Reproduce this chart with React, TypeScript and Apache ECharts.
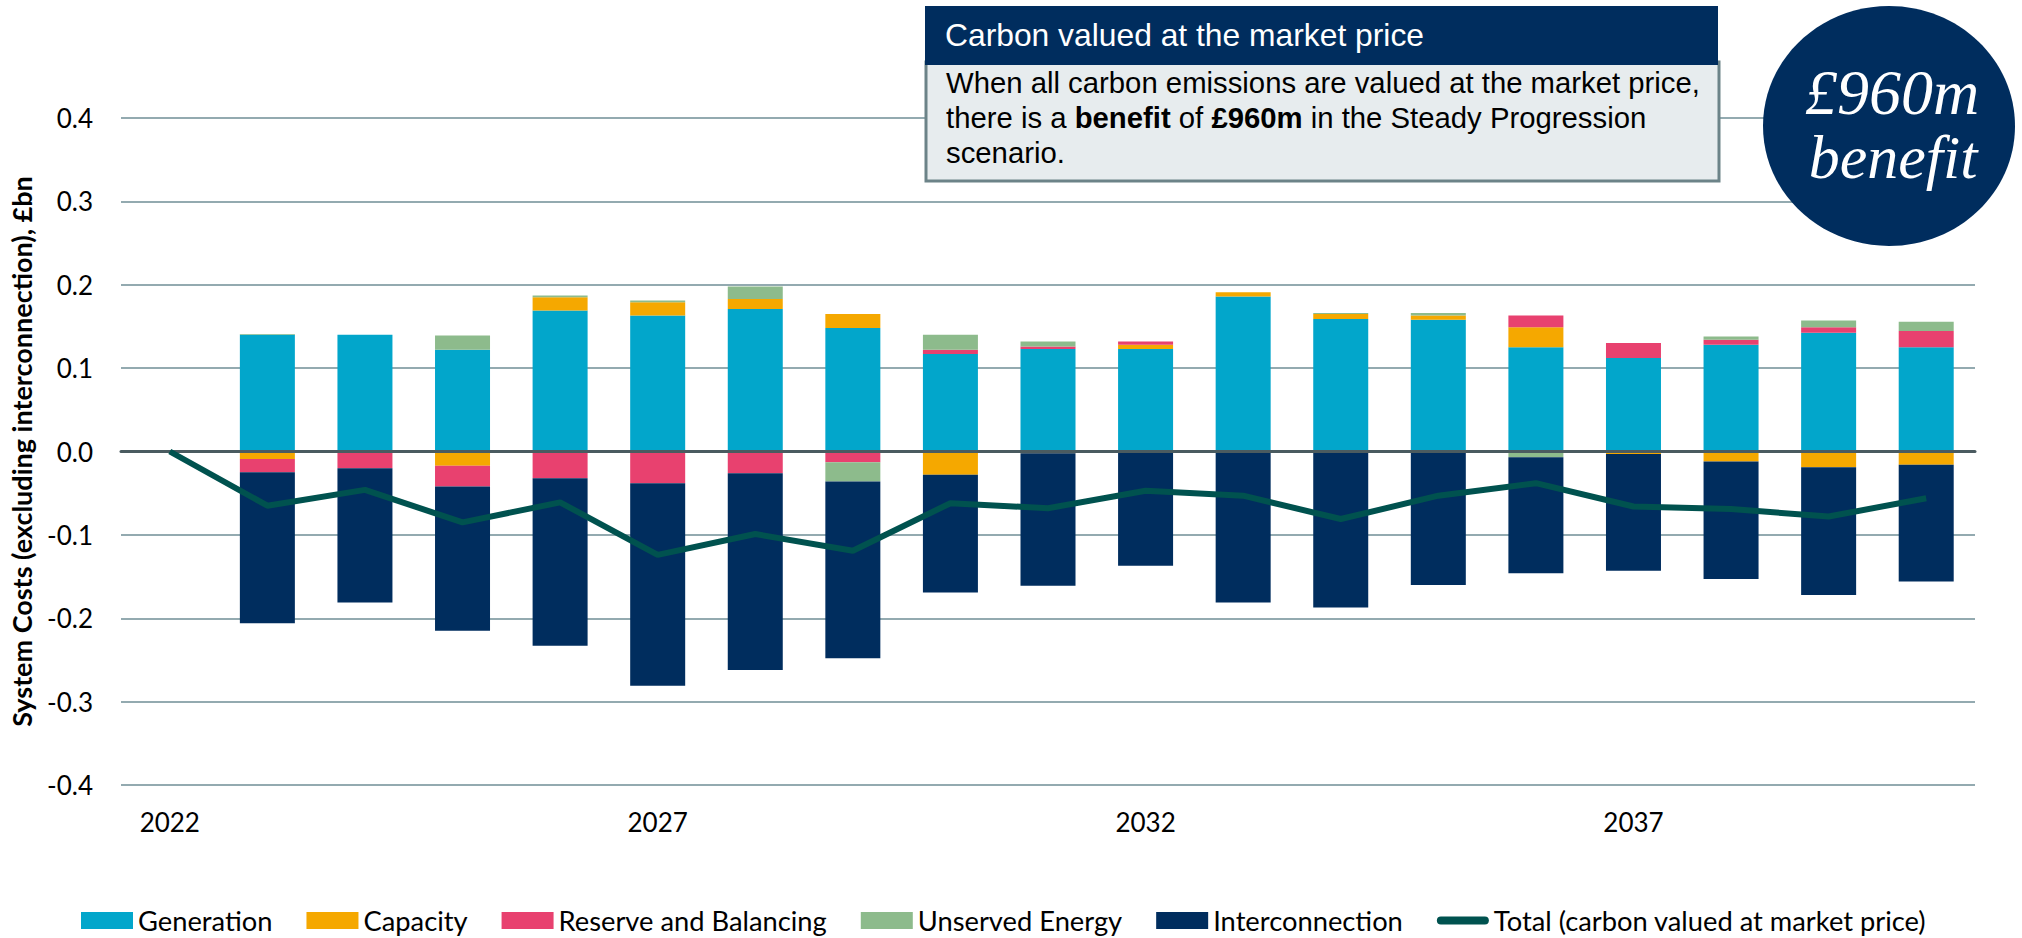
import React, { useEffect, useRef } from "react";
import * as echarts from "echarts";

const years = ["2022","2023","2024","2025","2026","2027","2028","2029","2030","2031","2032","2033","2034","2035","2036","2037","2038","2039","2040"];
const generation = [null, 0.140, 0.140, 0.122, 0.169, 0.163, 0.171, 0.148, 0.117, 0.123, 0.123, 0.186, 0.159, 0.158, 0.125, 0.112, 0.128, 0.1425, 0.125];
const capacity = [null, -0.009, 0, -0.017, 0.016, 0.016, 0.012, 0.017, -0.028, -0.002, 0.005, 0.005, 0.006, 0.005, 0.024, -0.003, -0.012, -0.019, -0.016];
const reserve = [null, -0.016, -0.020, -0.025, -0.032, -0.038, -0.026, -0.013, 0.005, 0.003, 0.004, 0, 0, 0, 0.014, 0.018, 0.006, 0.0065, 0.0195];
const unserved = [null, 0.001, 0, 0.017, 0.002, 0.002, 0.015, -0.023, 0.018, 0.006, 0, 0, 0.001, 0.003, -0.007, 0, 0.004, 0.008, 0.011];
const interconnection = [null, -0.181, -0.161, -0.173, -0.201, -0.243, -0.236, -0.212, -0.141, -0.159, -0.137, -0.181, -0.187, -0.160, -0.139, -0.140, -0.141, -0.153, -0.140];
const total = [0, -0.065, -0.046, -0.085, -0.061, -0.124, -0.099, -0.119, -0.062, -0.068, -0.047, -0.053, -0.081, -0.053, -0.038, -0.066, -0.069, -0.078, -0.056];

const NAMES = {
  gen: "Generation",
  cap: "Capacity",
  res: "Reserve and Balancing",
  uns: "Unserved Energy",
  int: "Interconnection",
  tot: "Total (carbon valued at market price)",
};
const COLORS = {
  gen: "#02A6CB",
  cap: "#F5A800",
  res: "#E8416F",
  uns: "#8DBB8C",
  int: "#002D5E",
  tot: "#00524F",
};
const FONT = "Lato";

export default function App() {
  const ref = useRef<HTMLDivElement>(null);
  useEffect(() => {
    const chart = echarts.init(ref.current!, null, { renderer: "svg" });
    const bar = (name: string, data: (number | null)[], color: string) => ({
      name,
      type: "bar",
      stack: "costs",
      data,
      barWidth: 55,
      itemStyle: { color },
      emphasis: { disabled: true },
    });
    chart.setOption({
      animation: false,
      grid: { left: 121, right: 47, top: 118, bottom: 153, containLabel: false },
      legend: {
        left: 81,
        top: 907,
        padding: 0,
        itemWidth: 52,
        itemHeight: 17,
        itemGap: 34,
        textStyle: { fontFamily: FONT, fontSize: 27.3, lineHeight: 27, color: "#000" },
        data: [
          { name: NAMES.gen, icon: "rect" },
          { name: NAMES.cap, icon: "rect" },
          { name: NAMES.res, icon: "rect" },
          { name: NAMES.uns, icon: "rect" },
          { name: NAMES.int, icon: "rect" },
          { name: NAMES.tot, icon: "path://M4,0 L48,0 A4,4 0 0 1 48,8 L4,8 A4,4 0 0 1 4,0 Z" },
        ],
      },
      xAxis: {
        type: "category",
        data: years,
        z: 5,
        axisLine: { show: true, onZero: true, lineStyle: { color: "#4A5B60", width: 3 } },
        axisTick: { show: false },
        axisLabel: { interval: 4, fontFamily: FONT, fontSize: 26, color: "#000", margin: 24 },
      },
      yAxis: {
        type: "value",
        min: -0.4,
        max: 0.4,
        interval: 0.1,
        name: "System Costs (excluding interconnection), £bn",
        nameLocation: "middle",
        nameGap: 86,
        nameTextStyle: { fontFamily: FONT, fontSize: 27, fontWeight: "bold", color: "#000" },
        axisLine: { show: false },
        axisTick: { show: false },
        axisLabel: {
          fontFamily: FONT,
          fontSize: 26,
          color: "#000",
          margin: 28,
          formatter: (v: number) => v.toFixed(1),
        },
        splitLine: { lineStyle: { color: "#93AAB0", width: 2 } },
      },
      series: [
        bar(NAMES.gen, generation, COLORS.gen),
        bar(NAMES.cap, capacity, COLORS.cap),
        bar(NAMES.res, reserve, COLORS.res),
        bar(NAMES.uns, unserved, COLORS.uns),
        bar(NAMES.int, interconnection, COLORS.int),
        {
          name: NAMES.tot,
          type: "line",
          data: total,
          z: 10,
          symbol: "none",
          lineStyle: { color: COLORS.tot, width: 6 },
          itemStyle: { color: COLORS.tot },
          emphasis: { disabled: true },
        },
      ],
      graphic: [
        {
          type: "rect",
          shape: { x: 926, y: 62, width: 793, height: 119 },
          style: { fill: "#E7ECEE", stroke: "#6C8388", lineWidth: 3 },
          z: 100,
        },
        {
          type: "rect",
          shape: { x: 925, y: 6, width: 793, height: 59 },
          style: { fill: "#002D5E" },
          z: 101,
        },
        {
          type: "text",
          x: 945,
          y: 35,
          z: 102,
          style: {
            text: "Carbon valued at the market price",
            fill: "#FFFFFF",
            font: "31.8px 'Liberation Sans', Arial, sans-serif",
            textVerticalAlign: "middle",
          },
        },
        {
          type: "text",
          x: 946,
          y: 65,
          z: 102,
          style: {
            text:
              "{n|When all carbon emissions are valued at the market price,}\n" +
              "{n|there is a }{b|benefit}{n| of }{b|£960m}{n| in the Steady Progression}\n" +
              "{n|scenario.}",
            textVerticalAlign: "top",
            rich: {
              n: { fontFamily: "Liberation Sans", fontSize: 29.3, color: "#4F5C60", lineHeight: 35 },
              b: { fontFamily: "Liberation Sans", fontSize: 29.3, fontWeight: "bold", color: "#4F5C60", lineHeight: 35 },
            },
          },
        },
        {
          type: "ellipse",
          shape: { cx: 1889, cy: 126, rx: 126, ry: 120 },
          style: { fill: "#002D5E" },
          z: 100,
        },
        {
          type: "text",
          x: 1892,
          y: 92,
          z: 102,
          style: {
            text: "£960m",
            fill: "#FFFFFF",
            font: "italic 64px 'Liberation Serif', serif",
            textAlign: "center",
            textVerticalAlign: "middle",
          },
        },
        {
          type: "text",
          x: 1893,
          y: 157,
          z: 102,
          style: {
            text: "benefit",
            fill: "#FFFFFF",
            font: "italic 62px 'Liberation Serif', serif",
            textAlign: "center",
            textVerticalAlign: "middle",
          },
        },
      ],
    });
    return () => chart.dispose();
  }, []);
  return <div ref={ref} style={{ position: "absolute", left: 0, top: 0, width: 2022, height: 938 }} />;
}
